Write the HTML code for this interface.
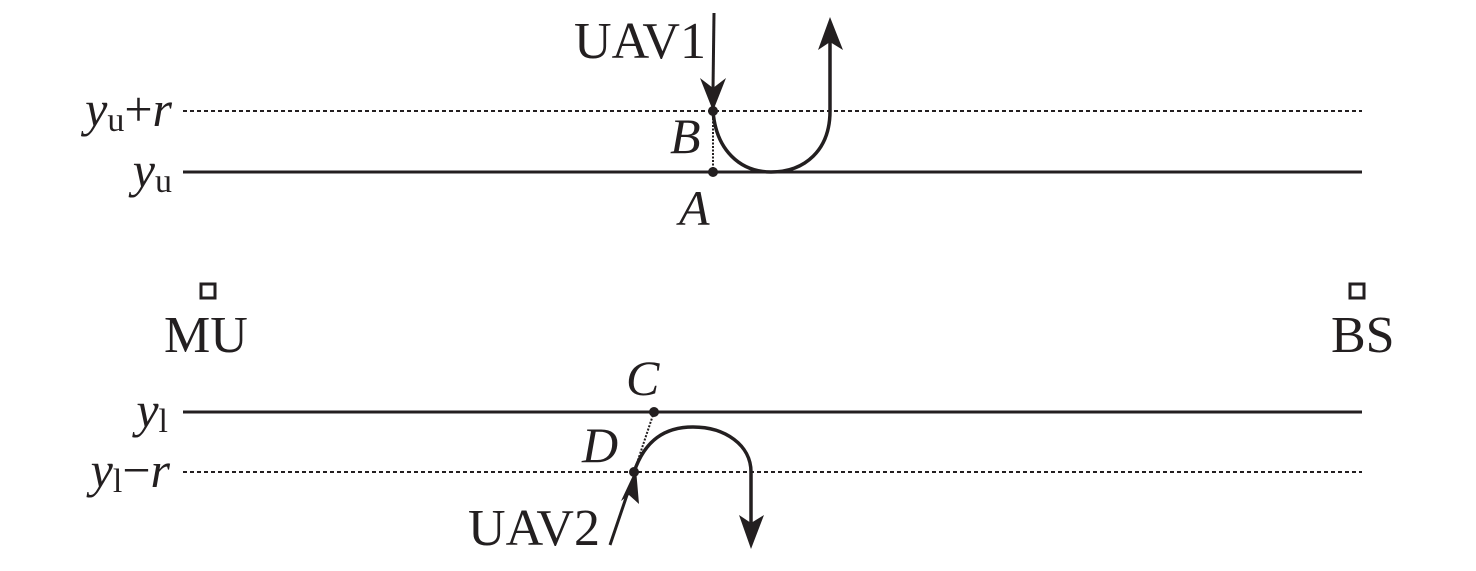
<!DOCTYPE html>
<html><head><meta charset="utf-8"><style>
html,body{margin:0;padding:0;background:#fff;}
svg{display:block;}
text{font-family:"Liberation Serif",serif;fill:#231f20;}
.i{font-style:italic;}
</style></head><body>
<svg width="1476" height="571" viewBox="0 0 1476 571" xmlns="http://www.w3.org/2000/svg">
<g stroke="#231f20" fill="none">
<line x1="183" y1="111" x2="1362" y2="111" stroke-width="2" stroke-dasharray="4,3"/>
<line x1="183" y1="172" x2="1362" y2="172" stroke-width="3"/>
<line x1="183" y1="412" x2="1362" y2="412" stroke-width="3"/>
<line x1="183" y1="472" x2="1362" y2="472" stroke-width="2" stroke-dasharray="4,3"/>
<line x1="713" y1="111" x2="713" y2="172" stroke-width="2" stroke-dasharray="2,1.5"/>
<line x1="654" y1="412" x2="634" y2="472" stroke-width="2" stroke-dasharray="2,1.5"/>
<line x1="714" y1="13" x2="713" y2="90" stroke-width="3"/>
<path d="M713 111 C716 150 740 172 771 172 C805 172 830 150 830 111 L830 40" stroke-width="3.5"/>
<path d="M634 472 C645 440 665 427 693 427 C725 427 751 445 751 472 L751 525" stroke-width="3.5"/>
<line x1="610" y1="545" x2="628" y2="492" stroke-width="3"/>
<rect x="201" y="284" width="14" height="14" stroke-width="3"/>
<rect x="1350" y="284" width="14" height="14" stroke-width="3"/>
</g>
<g fill="#231f20">
<polygon points="713,111 700,78 713,88 726,78"/>
<polygon points="830,17 818,50 830,42 843,50"/>
<polygon points="751,549 739,515 751,523 764,515"/>
<polygon points="636,469 621,501 629,495 639,504"/>
<circle cx="713" cy="111" r="5"/>
<circle cx="713" cy="172" r="5"/>
<circle cx="654" cy="412" r="5"/>
<circle cx="634" cy="472" r="5"/>
</g>
<text x="706" y="58" font-size="52" text-anchor="end">UAV1</text>
<text x="600" y="545" font-size="52" text-anchor="end">UAV2</text>
<text x="670" y="153" font-size="50" class="i">B</text>
<text x="679" y="225" font-size="50" class="i">A</text>
<text x="626" y="395" font-size="50" class="i">C</text>
<text x="582" y="462" font-size="50" class="i">D</text>
<text x="164" y="352" font-size="52">MU</text>
<text x="1331" y="352" font-size="52">BS</text>
<text x="172" y="126" font-size="50" text-anchor="end"><tspan class="i">y</tspan><tspan font-size="34" dy="5">u</tspan><tspan dy="-5">+</tspan><tspan class="i">r</tspan></text>
<text x="172" y="187" font-size="50" text-anchor="end"><tspan class="i">y</tspan><tspan font-size="34" dy="5">u</tspan></text>
<text x="168" y="427" font-size="50" text-anchor="end"><tspan class="i">y</tspan><tspan font-size="34" dy="5">l</tspan></text>
<text x="170" y="487" font-size="50" text-anchor="end"><tspan class="i">y</tspan><tspan font-size="34" dy="5">l</tspan><tspan dy="-5">−</tspan><tspan class="i">r</tspan></text>
</svg>
</body></html>
